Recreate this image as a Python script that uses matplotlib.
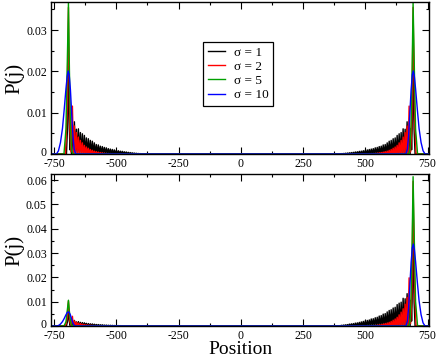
import numpy as np
import matplotlib
matplotlib.use("Agg")
import matplotlib.pyplot as plt
from matplotlib.ticker import MultipleLocator, FuncFormatter
from matplotlib.transforms import ScaledTranslation

plt.rcParams['font.family'] = ['Liberation Serif', 'DejaVu Serif']
plt.rcParams['axes.unicode_minus'] = False

# ---------------- data ----------------
# distances |j| from the origin; left side of each panel is at -|j|
labels = ['σ = 1', 'σ = 2', 'σ = 5', 'σ = 10']
colors = ['black', '#ff0000', '#00a000', '#0000ff']
x_edge = 1000

# sigma = 1 : narrow peak + long oscillating tail
black_peak_d = [700, 696, 692, 689, 686]
black_peak_top = [0, 0.006, 0.0212, 0.008, 0.001]
black_peak_bot_r = [0, 0.010, 0.0366, 0.0135, 0.002]
black_peak_bot_l = [0, 0.0018, 0.0062, 0.0023, 0.0003]

black_tail_d = [684, 676, 668, 660, 652, 644, 636, 628, 620, 612, 604, 596, 588,
                580, 572, 564, 556, 548, 540, 532, 524, 516, 508, 500, 492, 484,
                476, 468, 460, 452, 444, 436, 428, 420, 412, 404, 396]
black_tail_top = [0.0062, 0.0071, 0.0078, 0.0060, 0.0061, 0.0052, 0.0049, 0.0045,
                  0.0039, 0.0037, 0.0033, 0.0031, 0.0027, 0.0023, 0.0022, 0.0019,
                  0.0018, 0.0016, 0.0015, 0.0013, 0.0012, 0.0011, 0.0010, 0.0009,
                  0.0008, 0.0007, 0.00065, 0.00055, 0.0005, 0.00042, 0.00036,
                  0.0003, 0.00024, 0.00019, 0.00014, 0.0001, 0.00006]
black_tail_bot_r = [0.0106, 0.0122, 0.0133, 0.0112, 0.0114, 0.0098, 0.0094, 0.0088,
                    0.0077, 0.0074, 0.0067, 0.0064, 0.0058, 0.0051, 0.0049, 0.0043,
                    0.0041, 0.0036, 0.0034, 0.0030, 0.0029, 0.0025, 0.0023, 0.0021,
                    0.0019, 0.0017, 0.0015, 0.0013, 0.0012, 0.0010, 0.0009,
                    0.0008, 0.0006, 0.0005, 0.0004, 0.0003, 0.00015]
black_tail_bot_l = [0.0018, 0.0021, 0.0023, 0.0017, 0.0018, 0.0015, 0.0014, 0.0013,
                    0.0011, 0.0010, 0.0009, 0.00085, 0.00075, 0.00064, 0.0006,
                    0.00052, 0.0005, 0.0004, 0.00038, 0.00032, 0.0003, 0.00026,
                    0.00023, 0.0002, 0.00019, 0.00016, 0.00014, 0.00012, 0.0001,
                    0.00009, 0.00008, 0.00006, 0.00005, 0.00004, 0.00003, 0.00002,
                    0.00001]

# sigma = 2
red_peak_d = [704, 698, 692, 687, 682]
red_peak_top = [0, 0.009, 0.0355, 0.007, 0.0005]
red_peak_bot_r = [0, 0.015, 0.0595, 0.012, 0.001]
red_peak_bot_l = [0, 0.0026, 0.0103, 0.002, 0.0002]

red_tail_d = [676, 668, 660, 652, 644, 636, 628, 620, 612, 604, 596, 588, 580,
              572, 564, 556, 548, 540, 532, 524]
red_tail_top = [0.0116, 0.0068, 0.0052, 0.0041, 0.0033, 0.0027, 0.0021, 0.0017,
                0.0014, 0.0011, 0.0009, 0.0007, 0.00058, 0.00046, 0.00036, 0.00028,
                0.0002, 0.00014, 0.00009, 0.00005]
red_tail_bot_r = [0.0198, 0.0118, 0.0090, 0.0071, 0.0057, 0.0046, 0.0036, 0.0029,
                  0.0024, 0.0019, 0.0015, 0.0012, 0.0010, 0.0008, 0.0006, 0.00047,
                  0.00034, 0.00024, 0.00015, 0.00008]
red_tail_bot_l = [0.0040, 0.0021, 0.0016, 0.0012, 0.0010, 0.0008, 0.0006, 0.0005,
                  0.0004, 0.00033, 0.00027, 0.0002, 0.00017, 0.00013, 0.0001,
                  0.00008, 0.00006, 0.00004, 0.00003, 0.00002]

# sigma = 5
green_peak_d = [710, 702, 697, 692, 688, 684, 680, 675]
green_peak_top = [0, 0.006, 0.021, 0.0366, 0.020, 0.007, 0.0012, 0]
green_peak_bot_r = [0, 0.010, 0.035, 0.0614, 0.0335, 0.0118, 0.002, 0]
green_peak_bot_l = [0, 0.0017, 0.0061, 0.0106, 0.0058, 0.002, 0.0003, 0]

# sigma = 10
blue_peak_d = [740, 732, 724, 716, 709, 702, 697, 693, 689, 684, 679, 674, 669, 663]
blue_peak_top = [0, 0.0008, 0.0028, 0.0062, 0.0108, 0.0158, 0.0188, 0.0201,
                 0.0192, 0.0155, 0.0098, 0.0045, 0.0012, 0]
blue_peak_bot_r = [0, 0.0013, 0.0047, 0.0104, 0.0181, 0.0265, 0.0316, 0.0337,
                   0.0322, 0.026, 0.0165, 0.0076, 0.002, 0]
blue_peak_bot_l = [0, 0.0002, 0.0008, 0.0018, 0.0031, 0.0046, 0.0055, 0.0058,
                   0.0056, 0.0045, 0.0028, 0.0013, 0.0003, 0]


def side(peak_d, peak_v, tail_d=(), tail_v=()):
    # profile from the outer edge inwards; odd sites of the tail are empty
    d = list(peak_d)
    v = list(peak_v)
    for td, tv in zip(tail_d, tail_v):
        d += [td, td - 4]
        v += [tv, 0.0]
    return np.array(d, float), np.array(v, float)


def series(left, right):
    dl, vl = left
    dr, vr = right
    x = np.concatenate([[-x_edge], -dl, dr[::-1], [x_edge]])
    y = np.concatenate([[0], vl, vr[::-1], [0]])
    return x, y


top_data = [
    series(side(black_peak_d, black_peak_top, black_tail_d, black_tail_top),
           side(black_peak_d, black_peak_top, black_tail_d, black_tail_top)),
    series(side(red_peak_d, red_peak_top, red_tail_d, red_tail_top),
           side(red_peak_d, red_peak_top, red_tail_d, red_tail_top)),
    series(side(green_peak_d, green_peak_top), side(green_peak_d, green_peak_top)),
    series(side(blue_peak_d, blue_peak_top), side(blue_peak_d, blue_peak_top)),
]
bot_data = [
    series(side(black_peak_d, black_peak_bot_l, black_tail_d, black_tail_bot_l),
           side(black_peak_d, black_peak_bot_r, black_tail_d, black_tail_bot_r)),
    series(side(red_peak_d, red_peak_bot_l, red_tail_d, red_tail_bot_l),
           side(red_peak_d, red_peak_bot_r, red_tail_d, red_tail_bot_r)),
    series(side(green_peak_d, green_peak_bot_l), side(green_peak_d, green_peak_bot_r)),
    series(side(blue_peak_d, blue_peak_bot_l), side(blue_peak_d, blue_peak_bot_r)),
]

# ---------------- figure ----------------
fig = plt.figure(figsize=(4.36, 3.59), dpi=100)
ax1 = fig.add_axes([0.117, 0.571, 0.867, 0.4234])
ax2 = fig.add_axes([0.117, 0.0919, 0.867, 0.4234])


def yfmt(v, pos):
    return '0' if abs(v) < 1e-12 else '%g' % v


for ax, data, ymax in [(ax1, top_data, 0.0368), (ax2, bot_data, 0.0625)]:
    for (x, y), c, lab in zip(data, colors, labels):
        ax.plot(x, y, color=c, lw=1.0, label=lab)
    ax.set_xlim(-762, 756)
    ax.set_ylim(0, ymax)
    ax.xaxis.set_major_locator(MultipleLocator(250))
    ax.xaxis.set_minor_locator(MultipleLocator(125))
    ax.yaxis.set_major_locator(MultipleLocator(0.01))
    ax.yaxis.set_minor_locator(MultipleLocator(0.005))
    ax.yaxis.set_major_formatter(FuncFormatter(yfmt))
    ax.tick_params(which='both', direction='in', top=True, right=True,
                   labelsize=8.5)
    ax.tick_params(axis='x', pad=3)
    ax.tick_params(axis='y', pad=3)
    ax.tick_params(which='major', length=5, width=0.8)
    ax.tick_params(which='minor', length=2.5, width=0.8)
    for s in ax.spines.values():
        s.set_linewidth(1.0)
    ax.set_ylabel('P(j)', fontsize=15, labelpad=1)

fig.text(0.551, 0.013, 'Position', fontsize=14, ha='center', va='baseline')

# lift the "0" on each y axis a little so it clears the "-750" below it
fig.canvas.draw()
lift = ScaledTranslation(0, 2.0 / 72, fig.dpi_scale_trans)
for ax in (ax1, ax2):
    for lab in ax.get_yticklabels():
        if lab.get_text() == '0':
            lab.set_transform(lab.get_transform() + lift)

leg = ax1.legend(loc='upper left', bbox_to_anchor=(0.402, 0.739), borderaxespad=0,
                 fontsize=9.5, frameon=True, fancybox=False, framealpha=1,
                 edgecolor='black', handlelength=1.3, handletextpad=0.7,
                 labelspacing=0.15, borderpad=0.35)
leg.get_frame().set_linewidth(0.9)

fig.savefig('out.png', dpi=100)
